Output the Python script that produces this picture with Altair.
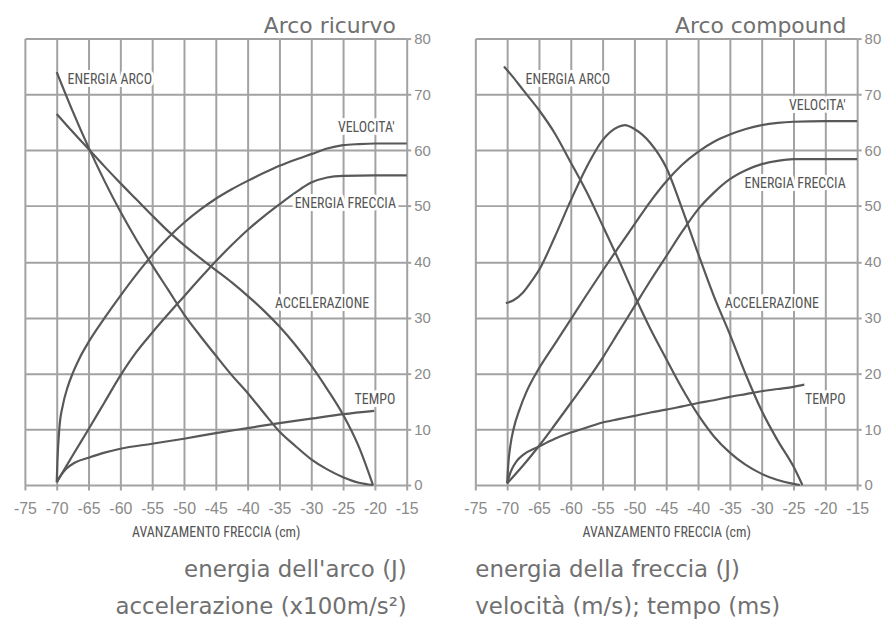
import altair as alt
import pandas as pd

# ---------------- data ----------------
# Arco ricurvo
ric_arco_x = [-70, -67.5, -65, -62.5, -60, -57.5, -55, -52.5, -50, -47.5, -45, -42.5, -40, -37.5, -35, -32.5, -30, -27.5, -25, -22.5, -20.3]
ric_arco_y = [74, 67, 60.5, 54.5, 49, 44, 39.4, 35, 30.6, 26.8, 23.2, 19.7, 16.5, 13, 9.6, 7, 4.6, 2.8, 1.4, 0.4, 0]

ric_acc_x = [-70, -67.5, -65, -62.5, -60, -57.5, -55, -52.5, -50, -47.5, -45, -42.5, -40, -37.5, -35, -32.5, -30, -27.5, -25, -22.5, -20.3]
ric_acc_y = [66.5, 63.3, 60.2, 57.1, 54.1, 51.2, 48.3, 45.5, 43, 40.7, 38.5, 36.3, 33.9, 31.3, 28.4, 25.1, 21.4, 17.2, 12.6, 6.8, 0]

ric_vel_x = [-70, -69.9, -69.6, -69, -68.3, -67.5, -66.3, -65, -62.5, -60, -57.5, -55, -52.5, -50, -47.5, -45, -42.5, -40, -37.5, -35, -32.5, -30, -27.5, -25, -22.5, -20, -15]
ric_vel_y = [0.5, 4, 10, 14.5, 17.5, 20, 23, 25.6, 29.9, 33.9, 37.7, 41.2, 44.3, 47, 49.3, 51.3, 53, 54.5, 55.9, 57.2, 58.3, 59.3, 60.3, 60.9, 61.1, 61.2, 61.2]

ric_ef_x = [-70, -67.5, -65, -62.5, -60, -57.5, -55, -52.5, -50, -47.5, -45, -42.5, -40, -37.5, -35, -32.5, -30, -27.5, -25, -20, -15]
ric_ef_y = [0.5, 5.3, 10, 14.8, 19.6, 23.8, 27.3, 30.6, 33.8, 37, 40.1, 43, 45.7, 48.1, 50.3, 52.4, 54.2, 55.1, 55.4, 55.5, 55.5]

ric_t_x = [-70, -69.3, -68.5, -67.2, -65, -62.5, -60, -55, -50, -45, -40, -35, -30, -25, -20.1]
ric_t_y = [0.5, 1.8, 2.9, 4, 4.9, 5.8, 6.5, 7.4, 8.3, 9.3, 10.2, 11.1, 11.9, 12.7, 13.3]

# Arco compound
cmp_arco_x = [-70.5, -69, -67.5, -65, -62.5, -60, -57.5, -55, -52.5, -50, -47.5, -45, -42.5, -40, -37.5, -35, -32.5, -30, -27.5, -25, -24]
cmp_arco_y = [75, 73, 70.8, 67.2, 63, 57.8, 52.5, 46.5, 40.4, 34, 28, 22.6, 17.3, 12.6, 8.7, 5.8, 3.6, 2, 0.9, 0.2, 0]

cmp_acc_x = [-70.2, -69, -67.5, -66, -65, -62.5, -60, -57.5, -55, -52.5, -51.5, -50, -47.5, -45, -42.5, -40, -37.5, -35, -32.5, -30, -27.5, -25, -23.6]
cmp_acc_y = [32.6, 33.1, 34.5, 36.8, 38.5, 44.5, 51, 57, 61.8, 64.2, 64.5, 63.8, 61.3, 56.9, 49.5, 41.5, 33.8, 27, 19.8, 13.3, 8, 3.3, 0]

cmp_vel_x = [-70, -69.8, -69.5, -69, -68, -67, -66, -65, -62.5, -60, -57.5, -55, -52.5, -50, -47.5, -45, -42.5, -40, -37.5, -35, -32.5, -30, -27.5, -25, -20, -15]
cmp_vel_y = [0.3, 4, 7, 10, 13.7, 16.6, 18.9, 20.9, 25.3, 29.7, 34.1, 38.4, 42.6, 46.7, 50.8, 54.4, 57.4, 59.7, 61.5, 62.8, 63.8, 64.5, 64.9, 65.1, 65.2, 65.2]

cmp_ef_x = [-70, -67.5, -65, -62.5, -60, -57.5, -55, -52.5, -50, -47.5, -45, -42.5, -40, -37.5, -35, -32.5, -30, -27.5, -25, -20, -15]
cmp_ef_y = [0.3, 3.5, 7, 10.8, 14.7, 18.6, 22.8, 27.4, 32, 36.6, 41, 45.4, 49.4, 52.4, 54.8, 56.4, 57.5, 58.1, 58.4, 58.4, 58.4]

cmp_t_x = [-70, -69.5, -69, -68.5, -67.5, -65, -62.5, -60, -57.5, -55, -52.5, -50, -47.5, -45, -42.5, -40, -37.5, -35, -32.5, -30, -27.5, -25, -23.3]
cmp_t_y = [0.3, 2.2, 3.4, 4.3, 5.4, 6.9, 8.3, 9.4, 10.3, 11.2, 11.8, 12.4, 13, 13.5, 14.1, 14.7, 15.2, 15.8, 16.3, 16.8, 17.2, 17.6, 18]

x_ticks = [-75, -70, -65, -60, -55, -50, -45, -40, -35, -30, -25, -20, -15]
y_ticks = [0, 10, 20, 30, 40, 50, 60, 70, 80]

# curve labels (text, x, y, align) in data units
ric_labels = [
    ("ENERGIA ARCO", -68.3, 72.6, "left"),
    ("VELOCITA'", -16.9, 63.9, "right"),
    ("ENERGIA FRECCIA", -16.7, 50.4, "right"),
    ("ACCELERAZIONE", -35.7, 32.5, "left"),
    ("TEMPO", -16.8, 15.3, "right"),
]
cmp_labels = [
    ("ENERGIA ARCO", -67.1, 72.6, "left"),
    ("VELOCITA'", -16.8, 67.9, "right"),
    ("ENERGIA FRECCIA", -16.8, 53.9, "right"),
    ("ACCELERAZIONE", -35.8, 32.5, "left"),
    ("TEMPO", -16.8, 15.3, "right"),
]

ric_title = "Arco ricurvo"
cmp_title = "Arco compound"
ric_bottom = ["energia dell'arco (J)", "accelerazione (x100m/s\u00b2)"]
cmp_bottom = ["energia della freccia (J)", "velocit\u00e0 (m/s); tempo (ms)"]
x_title = "AVANZAMENTO FRECCIA (cm)"

# ---------------- styles ----------------
GRID = "#a2a2a2"
CURVE = "#585858"
TICKTXT = "#8a8a8a"
TXT = "#707070"
NARROW = "Roboto Condensed, Open Sans Condensed, DejaVu Sans Condensed, Liberation Sans Narrow, sans-serif"
WIDE = "DejaVu Sans, Verdana, sans-serif"
TICKFONT = "Liberation Sans, Arial, sans-serif"
W, H = 384, 449


def panel(curves, labels, title, bottom, anchor):
    rows = []
    for name, xs, ys in curves:
        for xv, yv in zip(xs, ys):
            rows.append({"serie": name, "x": xv, "y": yv})
    df = pd.DataFrame(rows)

    xsc = alt.Scale(domain=[-75, -15], nice=False, zero=False)
    ysc = alt.Scale(domain=[0, 80], nice=False, zero=False)

    xaxis = alt.Axis(values=x_ticks, title=x_title, grid=True, gridColor=GRID, gridWidth=2,
                     domain=False, tickColor=GRID, tickWidth=2, tickSize=5,
                     labelFont=TICKFONT, labelFontSize=16, labelOverlap=False,
                     labelColor=TICKTXT, labelPadding=11, labelFlush=False,
                     labelExpr="'' + datum.value",
                     titleFont=NARROW, titleFontSize=14, titleFontWeight="normal",
                     titleColor="#555555", titlePadding=9)
    yaxis = alt.Axis(values=y_ticks, orient="right", title=None, grid=True, gridColor=GRID,
                     gridWidth=2, domain=False, tickColor=GRID, tickWidth=2, tickSize=4,
                     labelFont=TICKFONT, labelFontSize=15, labelOverlap=False,
                     labelColor=TICKTXT, labelPadding=3)

    lines = alt.Chart(df).mark_line(interpolate="monotone", color=CURVE, strokeWidth=2.2).encode(
        x=alt.X("x:Q", scale=xsc, axis=xaxis),
        y=alt.Y("y:Q", scale=ysc, axis=yaxis),
        detail="serie:N",
    )

    ldf = pd.DataFrame(labels, columns=["t", "lx", "ly", "al"])
    layers = [lines]
    for al in ["left", "right"]:
        sub = ldf[ldf["al"] == al]
        base = alt.Chart(sub).encode(
            x=alt.X("lx:Q", scale=xsc, axis=xaxis), y=alt.Y("ly:Q", scale=ysc, axis=yaxis),
            text="t:N")
        layers.append(base.mark_text(align=al, baseline="middle", font=NARROW, fontSize=14,
                                     stroke="white", strokeWidth=6,
                                     strokeJoin="round", color="white"))
        layers.append(base.mark_text(align=al, baseline="middle", font=NARROW, fontSize=14,
                                     color="#555555"))

    tdf = pd.DataFrame([{"t": title, "lx": -16.7, "ly": 81.0}])
    layers.append(alt.Chart(tdf).mark_text(align="right", baseline="alphabetic", font=WIDE,
                                           fontSize=22, color=TXT).encode(
        x=alt.X("lx:Q", scale=xsc, axis=xaxis), y=alt.Y("ly:Q", scale=ysc, axis=yaxis),
        text="t:N"))

    return alt.layer(*layers).properties(
        width=W, height=H,
        title=alt.TitleParams(text=bottom, orient="bottom", anchor=anchor, frame="group",
                              font=WIDE, fontSize=23, fontWeight="normal", color=TXT,
                              lineHeight=38, offset=19),
    )


left = panel([("arco", ric_arco_x, ric_arco_y), ("acc", ric_acc_x, ric_acc_y),
              ("vel", ric_vel_x, ric_vel_y), ("ef", ric_ef_x, ric_ef_y),
              ("t", ric_t_x, ric_t_y)], ric_labels, ric_title, ric_bottom, "end")
right = panel([("arco", cmp_arco_x, cmp_arco_y), ("acc", cmp_acc_x, cmp_acc_y),
               ("vel", cmp_vel_x, cmp_vel_y), ("ef", cmp_ef_x, cmp_ef_y),
               ("t", cmp_t_x, cmp_t_y)], cmp_labels, cmp_title, cmp_bottom, "start")

chart = alt.hconcat(left, right, spacing=31).configure_view(stroke=None).configure_axis(
    labelOverlap=False).configure(
    padding={"left": 4, "top": 4, "right": 0, "bottom": 0}, background="white")

chart.save("out.html", embed_options={"renderer": "svg", "actions": False})
